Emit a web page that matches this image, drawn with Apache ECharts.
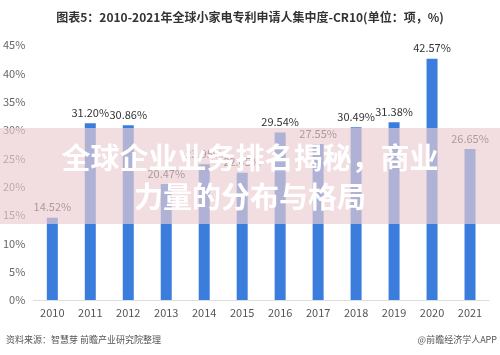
<!DOCTYPE html>
<html>
<head>
<meta charset="utf-8">
<script src="https://cdn.jsdelivr.net/npm/echarts@6/dist/echarts.min.js"></script>
<style>
html,body{margin:0;padding:0;background:#fff;}
#c{width:500px;height:355px;}
</style>
</head>
<body>
<div id="c"></div>
<script>
const years = ['2010','2011','2012','2013','2014','2015','2016','2017','2018','2019','2020','2021'];
const cr10 = [14.52, 31.20, 30.86, 20.47, 23.95, 22.45, 29.54, 27.55, 30.49, 31.38, 42.57, 26.65];
const yTicks = [0, 5, 10, 15, 20, 25, 30, 35, 40, 45];

const chart = echarts.init(document.getElementById('c'), null, {renderer: 'canvas'});
const font = '"Noto Sans CJK SC", "Noto Sans", sans-serif';
chart.setOption({
  animation: false,
  backgroundColor: '#fff',
  title: {
    text: '图表5：2010-2021年全球小家电专利申请人集中度-CR10(单位：项，%)',
    left: 'center', top: 6,
    textStyle: {fontSize: 12, fontWeight: 'bold', color: '#333', fontFamily: font}
  },
  grid: {left: 30, right: 11, top: 45, bottom: 55},
  xAxis: {
    type: 'category', data: years,
    axisLine: {lineStyle: {color: '#ddd'}},
    axisTick: {show: false},
    axisLabel: {color: '#555', fontSize: 11, margin: 7, fontFamily: font}
  },
  yAxis: {
    type: 'value', min: yTicks[0], max: yTicks[yTicks.length - 1], interval: 5,
    axisLine: {show: false}, axisTick: {show: false}, splitLine: {show: false},
    axisLabel: {color: '#666', fontSize: 11, margin: 8, formatter: '{value}%', fontFamily: font}
  },
  series: [{
    type: 'bar', data: cr10, barWidth: 11,
    itemStyle: {color: '#3b7ddd'},
    label: {
      show: true, position: 'top', distance: 5, color: '#333', fontSize: 11, fontFamily: font,
      formatter: p => p.value.toFixed(2) + '%'
    }
  }],
  graphic: [
    {type: 'rect', z: 100, shape: {x: 0, y: 128, width: 500, height: 96},
     style: {fill: 'rgba(236,205,210,0.66)'}},
    {type: 'text', z: 101, left: 'center', top: 143,
     style: {text: '全球企业业务排名揭秘，商业', fill: '#fff', fontSize: 29, fontWeight: 'bold', fontFamily: font}},
    {type: 'text', z: 101, left: 'center', top: 182,
     style: {text: '力量的分布与格局', fill: '#fff', fontSize: 29, fontWeight: 'bold', fontFamily: font}},
    {type: 'text', z: 5, left: 6, top: 335,
     style: {text: '资料来源：智慧芽 前瞻产业研究院整理', fill: '#555', fontSize: 9, fontFamily: font}},
    {type: 'text', z: 5, right: 3, top: 335,
     style: {text: '@前瞻经济学人APP', fill: '#555', fontSize: 9, fontFamily: font}}
  ]
});
</script>
</body>
</html>
